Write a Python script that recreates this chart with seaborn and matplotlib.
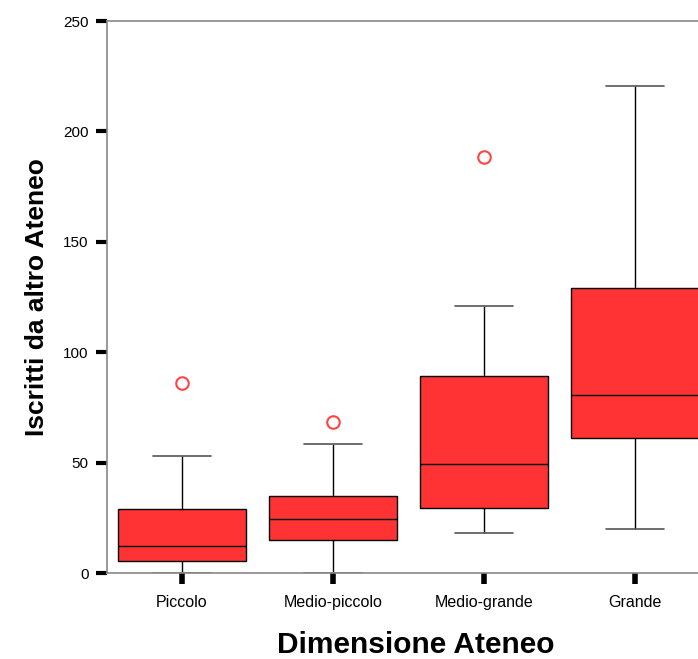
import matplotlib
matplotlib.use("Agg")
import matplotlib.pyplot as plt
import seaborn as sns
import pandas as pd

# box statistics
categories = ["Piccolo", "Medio-piccolo", "Medio-grande", "Grande"]
lower_whisker = [0.0, 0.0, 18.3, 20.1]
q1 = [5.4, 14.8, 29.4, 61.1]
median = [12.1, 24.3, 49.4, 80.6]
q3 = [28.8, 34.9, 89.2, 129.0]
upper_whisker = [53.0, 58.4, 121.0, 220.6]
outliers = [[86.0], [68.4], [188.4], []]
yticks = [0, 50, 100, 150, 200, 250]


def group_values(i):
    """values that reproduce the read quartiles (n=9 or n=5)"""
    if outliers[i]:
        return [lower_whisker[i], q1[i], q1[i], median[i], median[i],
                q3[i], q3[i], upper_whisker[i]] + outliers[i]
    return [lower_whisker[i], q1[i], median[i], q3[i], upper_whisker[i]]


rows = []
for i, cat in enumerate(categories):
    for v in group_values(i):
        rows.append({"Dimensione Ateneo": cat, "Iscritti": v})
df = pd.DataFrame(rows)

sns.set_style("white")
plt.rcParams["font.family"] = ["Liberation Sans", "DejaVu Sans"]

fig = plt.figure(figsize=(6.98, 6.59), dpi=100)
ax = fig.add_axes([0.1526, 0.1305, 0.8653, 0.8376])

sns.boxplot(data=df, x="Dimensione Ateneo", y="Iscritti", order=categories,
            width=0.85, whis=1.5, ax=ax,
            boxprops=dict(facecolor="#ff3333", edgecolor="black", linewidth=1),
            medianprops=dict(color="black", linewidth=1),
            whiskerprops=dict(color="black", linewidth=1),
            capprops=dict(color="#555555", linewidth=1.2),
            flierprops=dict(marker="o", markersize=9, markerfacecolor="none",
                            markeredgecolor="#ff4444", markeredgewidth=1.5),
            capwidths=0.38)

ax.set_xlim(-0.5, 3.5)
ax.set_ylim(0, 250)
ax.set_yticks(yticks)
ax.set_yticklabels([str(t) for t in yticks], fontsize=11, color="black")
ax.set_xticks(range(len(categories)))
ax.set_xticklabels(categories, fontsize=11.5, color="black")

for side in ["left", "top", "bottom"]:
    ax.spines[side].set_color("#888888")
    ax.spines[side].set_linewidth(1.2)
ax.spines["right"].set_visible(False)

ax.tick_params(axis="y", left=True, direction="out", length=8, width=3,
               color="black", pad=5)
ax.tick_params(axis="x", bottom=True, direction="out", length=8, width=4,
               color="black", pad=8)

ax.set_ylabel("Iscritti da altro Ateneo", fontsize=19, fontweight="bold",
              labelpad=10, color="black")
ax.set_xlabel("Dimensione Ateneo", fontsize=21.5, fontweight="bold",
              labelpad=12, color="black")
ax.xaxis.set_label_coords(0.5124, -0.105)

fig.savefig("out.png", dpi=100)
